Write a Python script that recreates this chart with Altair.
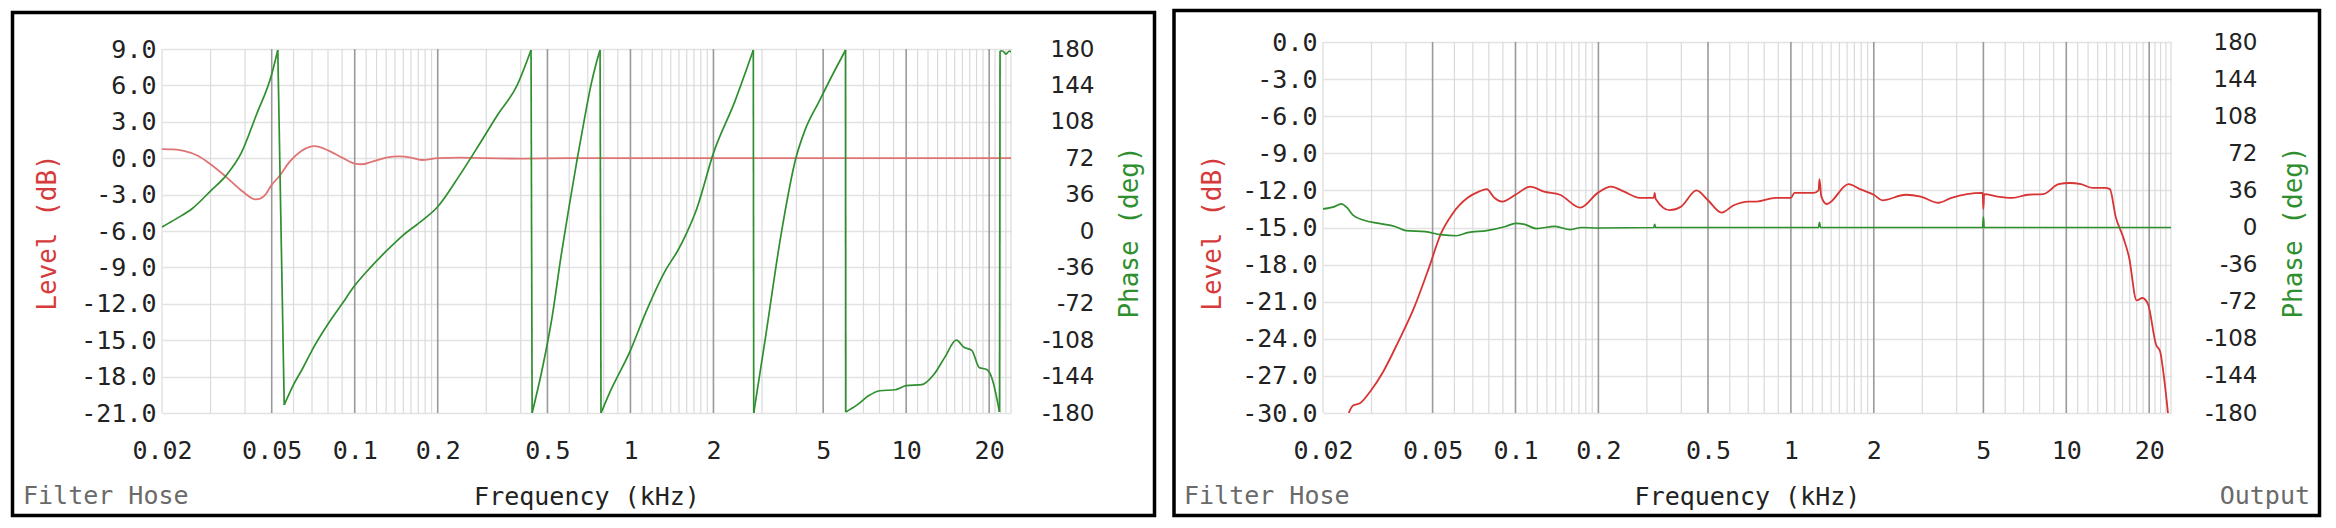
import altair as alt
import pandas as pd

# ---------------- data ----------------
X_TICKS = [0.02, 0.05, 0.1, 0.2, 0.5, 1, 2, 5, 10, 20]
MAJOR_GRID = [0.05, 0.1, 0.2, 0.5, 1, 2, 5, 10, 20]
MINOR_GRID = [0.02, 0.03, 0.04, 0.06, 0.07, 0.08, 0.09,
              0.11, 0.12, 0.13, 0.14, 0.15, 0.16, 0.17, 0.18, 0.19,
              0.3, 0.4, 0.6, 0.7, 0.8, 0.9,
              1.1, 1.2, 1.3, 1.4, 1.5, 1.6, 1.7, 1.8, 1.9,
              3, 4, 6, 7, 8, 9,
              11, 12, 13, 14, 15, 16, 17, 18, 19,
              21, 22, 23, 24]
LEVEL_TICKS_1 = [9, 6, 3, 0, -3, -6, -9, -12, -15, -18, -21]
LEVEL_TICKS_2 = [0, -3, -6, -9, -12, -15, -18, -21, -24, -27, -30]
PHASE_TICKS = [180, 144, 108, 72, 36, 0, -36, -72, -108, -144, -180]

# Left panel: level (dB)
L1_F = [0.02, 0.022, 0.024, 0.027, 0.030, 0.034, 0.039, 0.0438, 0.047, 0.050,
        0.0536, 0.058, 0.064, 0.0716, 0.080, 0.090, 0.100, 0.106, 0.115, 0.130,
        0.145, 0.160, 0.175, 0.200, 0.240, 0.300, 0.400, 0.600, 1.0, 2.0,
        5.0, 10.0, 24.0]
L1_V = [0.75, 0.72, 0.6, 0.2, -0.5, -1.5, -2.7, -3.4, -3.1, -2.2,
        -1.4, -0.3, 0.6, 1.0, 0.65, 0.05, -0.45, -0.5, -0.3, 0.05,
        0.15, 0.05, -0.15, 0.0, 0.05, 0.0, -0.03, 0.0, 0.0, 0.0,
        0.0, 0.0, 0.0]
# Left panel: phase (deg)
G1_F = [0.020, 0.0225, 0.0257, 0.0301, 0.0342, 0.0389, 0.044, 0.050, 0.0526,
        0.0555, 0.060, 0.065, 0.070, 0.080, 0.090, 0.100, 0.115, 0.130, 0.150,
        0.175, 0.200, 0.240, 0.282, 0.330, 0.388, 0.436,
        0.440, 0.480, 0.520, 0.560, 0.600, 0.640, 0.680, 0.720, 0.750, 0.776,
        0.782, 0.834, 1.0, 1.147, 1.346, 1.48, 1.58, 1.74, 2.0, 2.39, 2.79,
        2.80, 3.09, 3.51, 3.98, 4.30, 4.83, 5.49, 6.03,
        6.04, 6.64, 7.3, 8.03, 9.13, 10.0, 11.4, 12.6, 13.8, 15.2, 16.2, 17.3,
        18.4, 19.6, 20.6, 21.3, 21.8,
        21.9, 22.4, 23.0, 23.7, 24.0]
G1_V = [4, 12, 22, 40, 55, 78, 115, 155, 179,
        -172, -152, -135, -118, -92, -72, -54, -35, -20, -4,
        10, 24, 55, 85, 115, 144, 179,
        -180, -135, -85, -25, 25, 70, 110, 145, 165, 179,
        -180, -162, -118, -78, -38, -20, -5, 22, 77, 128, 179,
        -180, -105, -5, 72, 100, 128, 158, 179,
        -179, -172, -163, -158, -157, -153, -152, -142, -125, -108, -115, -118,
        -135, -137, -148, -165, -179,
        178, 178, 175, 178, 177]

# Right panel: level (dB)
L2_F = [0.0248, 0.0257, 0.0273, 0.0296, 0.033, 0.0376, 0.0428, 0.0486, 0.0536, 0.059,
        0.067, 0.0736, 0.0786, 0.0838, 0.0893, 0.100, 0.113, 0.127, 0.145, 0.172,
        0.199, 0.222, 0.248, 0.282, 0.318, 0.320, 0.323, 0.363, 0.400, 0.454,
        0.500, 0.560, 0.620, 0.700, 0.750, 0.880, 1.0, 1.03, 1.21, 1.26,
        1.27, 1.29, 1.35, 1.62, 1.78, 2.0, 2.15, 2.61, 2.96, 3.43,
        3.83, 4.36, 4.97, 5.0, 5.03, 5.63, 6.38, 7.25, 8.25, 9.38,
        10.3, 11.3, 12.5, 13.8, 14.4, 15.1, 16.1, 16.9, 18.0, 18.9,
        19.8, 21.2, 21.9, 22.6, 23.4]
L2_V = [-30.0, -29.4, -29.2, -28.3, -26.7, -24.2, -21.5, -18.2, -15.5, -13.9,
        -12.6, -12.1, -11.9, -12.6, -12.9, -12.35, -11.7, -12.1, -12.35, -13.4,
        -12.2, -11.7, -12.1, -12.6, -12.6, -12.2, -12.7, -13.6, -13.3, -12.0,
        -12.8, -13.8, -13.2, -12.9, -12.9, -12.6, -12.6, -12.2, -12.2, -12.0,
        -11.1, -12.5, -13.1, -11.5, -11.9, -12.35, -12.8, -12.35, -12.5, -13.0,
        -12.6, -12.3, -12.2, -13.5, -12.3, -12.5, -12.6, -12.35, -12.3, -11.5,
        -11.4, -11.5, -11.8, -11.8, -11.9, -14.1, -15.8, -17.4, -20.9, -20.7,
        -21.2, -24.5, -25.0, -27.0, -30.0]
# Right panel: phase (deg)
G2_F = [0.020, 0.0219, 0.0233, 0.0245, 0.0257, 0.0282, 0.032, 0.0365, 0.040, 0.047,
        0.0536, 0.061, 0.067, 0.0786, 0.092, 0.100, 0.108, 0.119, 0.139, 0.158,
        0.174, 0.200, 0.318, 0.320, 0.323, 1.26, 1.27, 1.28, 4.97, 5.0,
        5.03, 24.0]
G2_V = [18, 20, 23, 19, 12, 7, 4, 1, -3, -4,
        -7, -8, -5, -3, 1, 4, 3, -1, 1, -2,
        0, -0.5, 0, 3, 0, 0, 5, 0, 0, 10,
        0, 0]

# ---------------- style ----------------
RED = "#d63a3a"
GREEN = "#2f8f2f"
MONO = "DejaVu Sans Mono"
SANS = "DejaVu Sans"
MINUS = "\u2212"


def split_wraps(freqs, vals, col):
    """Group a series into continuous runs; each phase wrap becomes its own 2-point run."""
    f_out, v_out, s_out = [], [], []
    seg = 0
    for i, (f, v) in enumerate(zip(freqs, vals)):
        if i > 0 and abs(v - vals[i - 1]) > 180:
            seg += 1
            f_out += [freqs[i - 1], f]
            v_out += [vals[i - 1], v]
            s_out += [seg, seg]
            seg += 1
        f_out.append(f)
        v_out.append(v)
        s_out.append(seg)
    return pd.DataFrame({"f": f_out, col: v_out, "seg": s_out})


def panel(lf, lv, gf, gv, ldom, lticks, width, height, ytop,
          frame, rpad, tx_l, tx_r, ty, output, red_color):
    xs = alt.Scale(type="log", domain=[0.02, 24], nice=False)
    xaxis = alt.Axis(values=X_TICKS, format="~g", grid=False, ticks=False, tickSize=0,
                     domain=False, labelFont=MONO, labelFontSize=25, labelColor="#222",
                     labelPadding=45, labelBaseline="alphabetic", labelFlush=False,
                     labelOverlap=False, title="Frequency (kHz)", titleFont=MONO,
                     titleFontSize=25, titleFontWeight="normal", titleColor="#222",
                     titleY=91, titleBaseline="alphabetic")
    X = alt.X("f:Q", scale=xs, axis=xaxis)

    lvl_axis = alt.Axis(values=lticks, orient="left",
                        labelExpr=f"replace(format(datum.value, '.1f'), '{MINUS}', '-')",
                        grid=True, gridColor="#e3e3e3", gridWidth=1.6, ticks=False,
                        tickSize=0, domain=False, labelFont=MONO, labelFontSize=25,
                        labelColor="#222", labelPadding=6, labelOverlap=False,
                        title="Level (dB)", titleColor=RED, titleFont=MONO,
                        titleFontSize=26, titleFontWeight="normal", titleAngle=270,
                        titleX=tx_l, titleY=ty, titleAlign="center", titleBaseline="middle")
    ph_axis = alt.Axis(values=PHASE_TICKS, orient="right",
                       labelExpr=f"replace(format(datum.value, 'd'), '{MINUS}', '-')",
                       grid=False, ticks=False, tickSize=0, domain=False,
                       labelFont=SANS, labelFontSize=23, labelColor="#222",
                       labelAlign="right", labelPadding=rpad, labelOverlap=False,
                       title="Phase (deg)", titleColor=GREEN, titleFont=MONO,
                       titleFontSize=26, titleFontWeight="normal", titleAngle=270,
                       titleX=tx_r, titleY=ty, titleAlign="center", titleBaseline="middle")

    minor = alt.Chart(pd.DataFrame({"f": MINOR_GRID})).mark_rule(
        color="#dadada", strokeWidth=1.2).encode(
        x=X, y=alt.value(ytop), y2=alt.value(height))
    major = alt.Chart(pd.DataFrame({"f": MAJOR_GRID})).mark_rule(
        color="#9a9a9a", strokeWidth=1.6).encode(
        x=X, y=alt.value(ytop), y2=alt.value(height))

    lvl = alt.Chart(split_wraps(lf, lv, "v")).mark_line(
        color=red_color, strokeWidth=1.8, clip=True, interpolate="monotone").encode(
        x=X,
        y=alt.Y("v:Q", scale=alt.Scale(domain=ldom, range=[height, ytop], nice=False, zero=False),
                axis=lvl_axis),
        detail="seg:N")
    ph = alt.Chart(split_wraps(gf, gv, "p")).mark_line(
        color=GREEN, strokeWidth=1.7, clip=True, interpolate="monotone").encode(
        x=X,
        y=alt.Y("p:Q", scale=alt.Scale(domain=[-180, 180], range=[height, ytop], nice=False, zero=False),
                axis=ph_axis),
        detail="seg:N")

    one = pd.DataFrame({"k": [0]})
    fx1, fx2, fy1, fy2 = frame
    box = alt.Chart(one).mark_rect(color="white", fillOpacity=0, stroke="black",
                                   strokeWidth=3.5, clip=False).encode(
        x=alt.value(fx1), x2=alt.value(fx2), y=alt.value(fy1), y2=alt.value(fy2))
    left_txt = alt.Chart(one).mark_text(text="Filter Hose", font=MONO, fontSize=25,
                                        color="#6a6a6a", align="left",
                                        baseline="alphabetic").encode(
        x=alt.value(-139), y=alt.value(462))
    layers = [minor, major, lvl, ph, box, left_txt]
    if output:
        layers.append(alt.Chart(one).mark_text(text="Output", font=MONO, fontSize=25,
                                               color="#6a6a6a", align="right",
                                               baseline="alphabetic").encode(
            x=alt.value(width + 139), y=alt.value(462)))
    return alt.layer(*layers).resolve_scale(y="independent").properties(
        width=width, height=height)


p1 = panel(L1_F, L1_V, G1_F, G1_V, [-21, 9], LEVEL_TICKS_1, 849, 371, 7,
           (-149.5, 992.5, -29.5, 473.5), 83, -115, 118, 190, False, "#e07474")
p2 = panel(L2_F, L2_V, G2_F, G2_V, [-30, 0], LEVEL_TICKS_2, 848, 371, 0,
           (-149, 996.5, -31.5, 473.5), 86, -111, 122, 190, True, "#d83434")

chart = alt.hconcat(p1, p2, spacing=15).properties(
    padding={"left": 2, "top": 0, "right": 2, "bottom": 2},
    background="white",
).configure_view(stroke=None)

chart.save("out.html", embed_options={"renderer": "svg", "actions": False})
